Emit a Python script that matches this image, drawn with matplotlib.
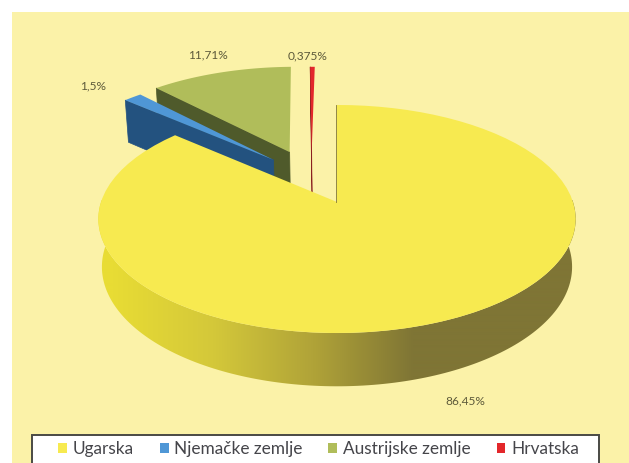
import numpy as np
import matplotlib
matplotlib.use('Agg')
import matplotlib.pyplot as plt
from matplotlib.patches import Patch, Polygon, Rectangle
from matplotlib.colors import to_rgb

names = ['Ugarska', 'Njemačke zemlje', 'Austrijske zemlje', 'Hrvatska']
shares = [86.45, 1.5, 11.71, 0.375]
share_labels = ['86,45%', '1,5%', '11,71%', '0,375%']

top_colors = ['#f7ea50', '#4f97d6', '#b0bd5a', '#e3272b']
wall_colors = ['#7f7535', '#23527f', '#4f5a2b', '#8a2020']
# explosion of each slice in disc units
explode = [(0, 0), (-0.285, 0.40), (-0.215, 0.48), (-0.115, 0.48)]
label_pos = [(465, 401), (93, 86), (208, 55), (308, 56)]

# side wall shading of the big slice, left to right
wall_x = [113, 213, 313, 413, 570]
wall_shade = ['#e8dc34', '#d4c83a', '#b0a338', '#7f7535', '#7f7535']

# pie projection, pixels
cx, cy = 337, 202
rx, ry, tilt = 236, 111.5, 0.149
depth = 47

fig = plt.figure(figsize=(6.29, 4.63), dpi=100, facecolor='white')
ax = fig.add_axes([0, 0, 1, 1])
ax.set_axis_off()


def project(u, v, z=0.0):
    w = 1 + tilt * v
    s = 1 - 0.015 * z
    return cx + s * rx * u / w, cy - s * ry * v / w + z * depth / w


def slice_top(start, end, off):
    th = np.radians(np.linspace(start, end, 80))
    u = np.r_[off[0], off[0] + np.sin(th)]
    v = np.r_[off[1], off[1] + np.cos(th)]
    return np.column_stack(project(u, v))


def cut_face(angle, off):
    th = np.radians(angle)
    u = np.array([off[0], off[0] + np.sin(th)])
    v = np.array([off[1], off[1] + np.cos(th)])
    x0, y0 = project(u, v)
    x1, y1 = project(u, v, 1.0)
    return np.column_stack([np.r_[x0, x1[::-1]], np.r_[y0, y1[::-1]]])


ax.add_patch(Rectangle((12, 12), 617, 451, fc='#fbf2a8', ec='none', zorder=0))

total = sum(shares)
edges = np.cumsum([0] + shares) / total * 360

# exploded slices first, green at the back, the big one goes over them
for z, i in enumerate([2, 1, 3]):
    ax.add_patch(Polygon(cut_face(edges[i], explode[i]), fc=wall_colors[i],
                         ec=wall_colors[i], lw=0.5, zorder=2 + z))
    ax.add_patch(Polygon(slice_top(edges[i], edges[i + 1], explode[i]),
                         fc=top_colors[i], ec='none', zorder=2 + z))

# outer wall of the big slice with left-right shading
th = np.radians(np.linspace(70, edges[1] - 15, 200))
tx, ty = project(np.sin(th), np.cos(th))
bx, by = project(np.sin(th), np.cos(th), 1.0)
wall = Polygon(np.column_stack([np.r_[tx, bx[::-1]], np.r_[ty, by[::-1]]]),
               fc='none', ec='none', zorder=7)
ax.add_patch(wall)
xs = np.arange(95, 585)
rgb = np.array([to_rgb(c) for c in wall_shade])
grad = np.stack([np.interp(xs, wall_x, rgb[:, k]) for k in range(3)], axis=-1)
img = ax.imshow(grad[None, :, :], extent=(95, 585, 400, 200), aspect='auto',
                zorder=7, interpolation='bilinear')
img.set_clip_path(wall)

ax.add_patch(Polygon(slice_top(edges[0], edges[1], explode[0]),
                     fc=top_colors[0], ec='none', zorder=8))
x0, y0 = project(np.array([0.0, 0.0]), np.array([0.0, 1.0]))
ax.plot(x0 - 1, y0, color=wall_colors[0], lw=0.6, zorder=9)

for lab, pos in zip(share_labels, label_pos):
    ax.text(pos[0], pos[1], lab, ha='center', va='center', fontsize=8.6,
            family='Lato', color='#5d5a3a', zorder=10)

ax.set_xlim(0, 629)
ax.set_ylim(463, 0)

# legend box runs off the bottom of the picture
ax.add_patch(Rectangle((32, 435), 567, 40, fc='white', ec='#4a4a44', lw=1.4,
                       zorder=11))
handles = [Patch(fc=c, ec='none') for c in top_colors]
leg = ax.legend(handles, names, loc='upper left', ncol=4,
                bbox_to_anchor=(58, 441), bbox_transform=ax.transData,
                borderaxespad=0, borderpad=0, frameon=False, handlelength=0.52,
                handleheight=0.55, handletextpad=0.34, columnspacing=1.49,
                prop={'family': 'Lato', 'size': 12.4}, labelcolor='#45454a')
leg.set_zorder(12)

plt.savefig('out.png', dpi=100, facecolor='white')
plt.close()
